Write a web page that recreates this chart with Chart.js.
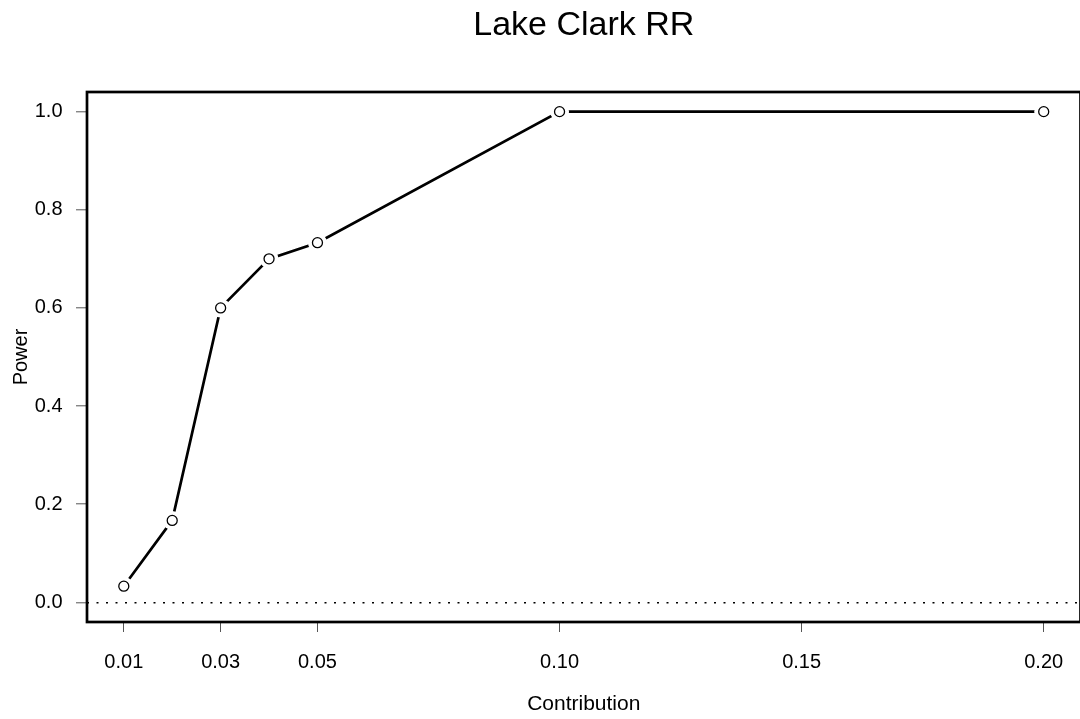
<!DOCTYPE html>
<html>
<head>
<meta charset="utf-8">
<script src="https://cdn.jsdelivr.net/npm/chart.js@4/dist/chart.umd.min.js"></script>
<style>
    html, body { margin: 0; padding: 0; background: #fff; overflow: hidden; }
    #wrap { width: 1090px; height: 719px; }
</style>
</head>
<body>
<div id="wrap"><canvas id="grafico" width="1090" height="719"></canvas></div>
<script>
const contribution = [0.01, 0.02, 0.03, 0.04, 0.05, 0.10, 0.20];
const power        = [0.033, 0.167, 0.600, 0.700, 0.733, 1.000, 1.000];
const xTicks       = [0.01, 0.03, 0.05, 0.10, 0.15, 0.20];
const yTicks       = [0.0, 0.2, 0.4, 0.6, 0.8, 1.0];

const FONTE  = "'Liberation Sans', Arial, Helvetica, sans-serif";
const pontos = contribution.map((x, i) => ({ x, y: power[i] }));

// caixa preta em volta da area do grafico (estilo R)
const moldura = {
    id: 'moldura',
    afterDraw(chart) {
        const { ctx, chartArea: a } = chart;
        ctx.save();
        ctx.strokeStyle = '#000';
        ctx.lineWidth = 2.7;
        ctx.strokeRect(a.left, a.top, a.right - a.left, a.bottom - a.top);
        ctx.restore();
    }
};

new Chart(document.getElementById('grafico'), {
    type: 'scatter',
    data: {
        datasets: [
            {   // circulos abertos por cima
                data: pontos,
                showLine: false,
                pointRadius: 5,
                pointBorderWidth: 1.3,
                pointBorderColor: '#000',
                pointBackgroundColor: '#fff',
                order: 0,
            },
            {   // linha, com "halo" branco para o espaco em volta dos pontos
                data: pontos,
                showLine: true,
                borderColor: '#000',
                borderWidth: 2.7,
                pointRadius: 9.5,
                pointBorderWidth: 0,
                pointBackgroundColor: '#fff',
                order: 1,
            }
        ]
    },
    options: {
        responsive: false,
        animation: false,
        events: [],
        layout: { padding: { top: 0, left: 0, right: 8, bottom: 0 } },
        plugins: {
            legend: { display: false },
            tooltip: { enabled: false },
            title: {
                display: true,
                text: 'Lake Clark RR',
                fullSize: false,
                color: '#000',
                font: { family: FONTE, size: 34, weight: 'normal', lineHeight: 1.2 },
                padding: { top: 4.8, bottom: 46.4 },
            }
        },
        scales: {
            x: {
                type: 'linear',
                min: 0.0024,
                max: 0.2076,
                afterBuildTicks: s => { s.ticks = xTicks.map(v => ({ value: v })); },
                afterFit: s => { s.height = 97; },
                border: { display: false },
                grid: { drawOnChartArea: false, drawTicks: true, tickLength: 10, tickColor: '#555', tickWidth: 1 },
                ticks: {
                    padding: 18,
                    autoSkip: false,
                    maxRotation: 0,
                    color: '#000',
                    font: { family: FONTE, size: 20 },
                    callback: v => Number(v).toFixed(2),
                },
                title: {
                    display: true,
                    text: 'Contribution',
                    color: '#000',
                    font: { family: FONTE, size: 21 },
                    padding: { top: 0, bottom: 2 },
                }
            },
            y: {
                min: -0.04,
                max: 1.04,
                afterBuildTicks: s => { s.ticks = yTicks.map(v => ({ value: v })); },
                afterFit: s => { s.width = 87; },
                border: { display: false, dash: [2, 7.5] },
                grid: {
                    color: c => (c.tick && c.tick.value === 0) ? '#000' : 'rgba(0,0,0,0)',
                    lineWidth: 1.6,
                    drawTicks: true,
                    tickLength: 11,
                    tickColor: '#555',
                    tickWidth: 1,
                    tickBorderDash: [],
                },
                ticks: {
                    padding: 13.5,
                    color: '#000',
                    font: { family: FONTE, size: 20 },
                    callback: v => Number(v).toFixed(1),
                },
                title: {
                    display: true,
                    text: 'Power',
                    color: '#000',
                    font: { family: FONTE, size: 20 },
                    padding: { top: 9, bottom: 0 },
                }
            }
        }
    },
    plugins: [moldura]
});
</script>
</body>
</html>
